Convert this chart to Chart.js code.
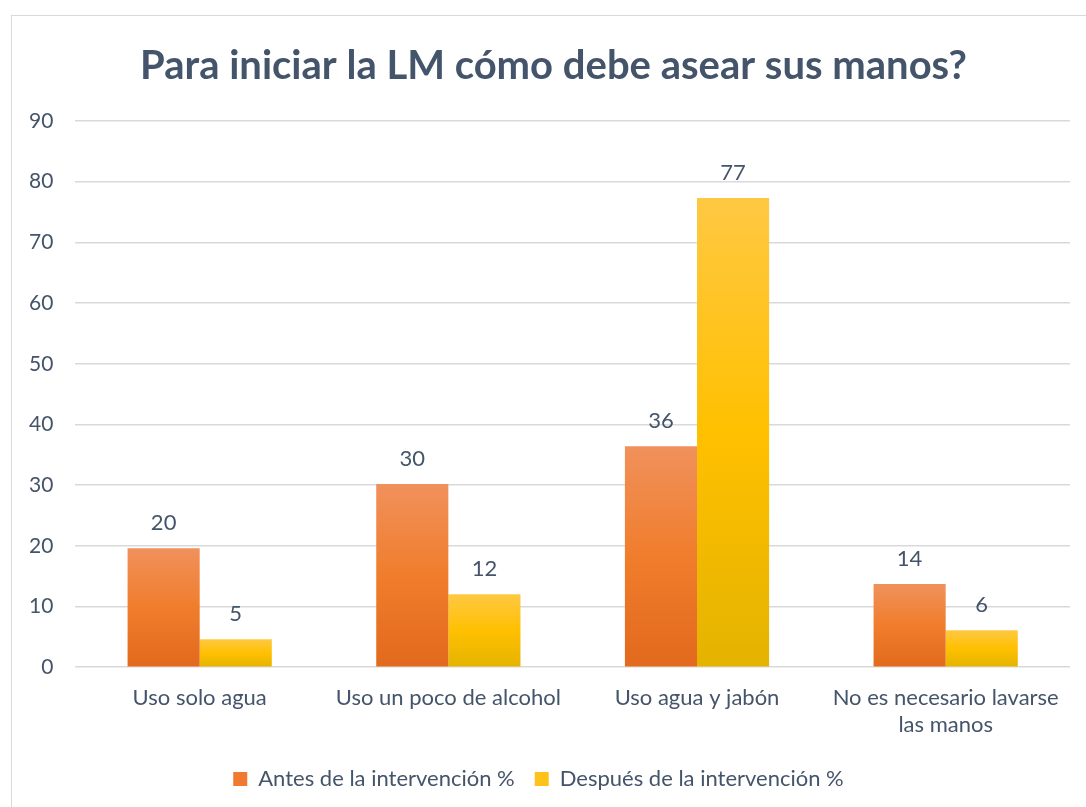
<!DOCTYPE html>
<html>
<head>
<meta charset="utf-8">
<script src="https://cdn.jsdelivr.net/npm/chart.js@4/dist/chart.umd.min.js"></script>
<style>
  body { margin: 0; background: #fff; }
  #frame { position: absolute; left: 11px; top: 15px; width: 1090px; height: 800px; border: 1px solid #D9D9D9; }
  #wrap { position: absolute; left: 0; top: 0; width: 1086px; height: 807px; }
</style>
</head>
<body>
<div id="frame"></div>
<div id="wrap"><canvas id="theChart"></canvas></div>
<script>
// chart data
var categories = ['Uso solo agua', 'Uso un poco de alcohol', 'Uso agua y jabón', ['No es necesario lavarse', 'las manos']];
var antes = [19.6, 30.2, 36.4, 13.7];
var despues = [4.6, 12.0, 77.3, 6.1];
var antesLabels = ['20', '30', '36', '14'];
var despuesLabels = ['5', '12', '77', '6'];
var yTicks = [0, 10, 20, 30, 40, 50, 60, 70, 80, 90];

var textColor = '#44546A';
var fontName = 'Lato, "Open Sans", sans-serif';

// gradient going from top of each bar down to the zero line
function barGradient(topColor, midColor, bottomColor) {
  return function(ctx) {
    var chart = ctx.chart;
    if (!chart.chartArea || ctx.type !== 'data') return midColor;
    var y = chart.scales.y;
    var top = y.getPixelForValue(ctx.raw);
    var bottom = y.getPixelForValue(0);
    if (!isFinite(top) || top === bottom) return midColor;
    var g = chart.ctx.createLinearGradient(0, top, 0, bottom);
    g.addColorStop(0, topColor);
    g.addColorStop(0.5, midColor);
    g.addColorStop(1, bottomColor);
    return g;
  };
}

// simple value labels above the bars
var valueLabels = {
  id: 'valueLabels',
  afterLayout: function(chart) {
    // title sits a bit right of the canvas centre in the original
    if (chart.titleBlock) chart.titleBlock.left += 30;
  },
  afterDatasetsDraw: function(chart) {
    var c = chart.ctx;
    c.save();
    c.fillStyle = textColor;
    c.font = '22px ' + fontName;
    c.textAlign = 'center';
    c.textBaseline = 'middle';
    var labelSets = [antesLabels, despuesLabels];
    chart.data.datasets.forEach(function(ds, i) {
      var meta = chart.getDatasetMeta(i);
      meta.data.forEach(function(bar, j) {
        c.fillText(labelSets[i][j], bar.x, bar.y - 25);
      });
    });
    c.restore();
  }
};

new Chart(document.getElementById('theChart'), {
  type: 'bar',
  data: {
    labels: categories,
    datasets: [{
      label: 'Antes de la intervención %',
      data: antes,
      backgroundColor: barGradient('#F0915C', '#F07D2C', '#E2691D')
    }, {
      label: 'Después de la intervención %',
      data: despues,
      backgroundColor: barGradient('#FFC843', '#FFC000', '#E4B300')
    }]
  },
  options: {
    responsive: true,
    maintainAspectRatio: false,
    animation: false,
    layout: { padding: { left: 7, right: 16, top: 10, bottom: 7 } },
    datasets: { bar: { categoryPercentage: 0.58, barPercentage: 1.0 } },
    plugins: {
      title: {
        display: true,
        text: 'Para iniciar la LM cómo debe asear sus manos?',
        color: textColor,
        font: { family: fontName, size: 40, weight: 'bold' },
        padding: { top: 32, bottom: 31 }
      },
      legend: {
        position: 'bottom',
        labels: {
          color: textColor,
          font: { family: fontName, size: 22 },
          boxWidth: 14,
          boxHeight: 14,
          padding: 20,
          generateLabels: function(chart) {
            var cols = ['#EF7A30', '#FFC21A'];
            return chart.data.datasets.map(function(ds, i) {
              return { text: ds.label, fillStyle: cols[i], strokeStyle: cols[i], lineWidth: 0, datasetIndex: i, fontColor: textColor };
            });
          }
        }
      },
      tooltip: { enabled: false }
    },
    scales: {
      x: {
        grid: { display: false },
        border: { display: false },
        ticks: { color: textColor, font: { family: fontName, size: 22 }, padding: 10, maxRotation: 0 }
      },
      y: {
        min: 0,
        max: 90,
        afterBuildTicks: function(axis) { axis.ticks = yTicks.map(function(v) { return { value: v }; }); },
        grid: { color: '#D9D9D9', lineWidth: 1.5, drawTicks: false },
        border: { display: false },
        ticks: { color: textColor, font: { family: fontName, size: 21 }, padding: 22 }
      }
    }
  },
  plugins: [valueLabels]
});
</script>
</body>
</html>
